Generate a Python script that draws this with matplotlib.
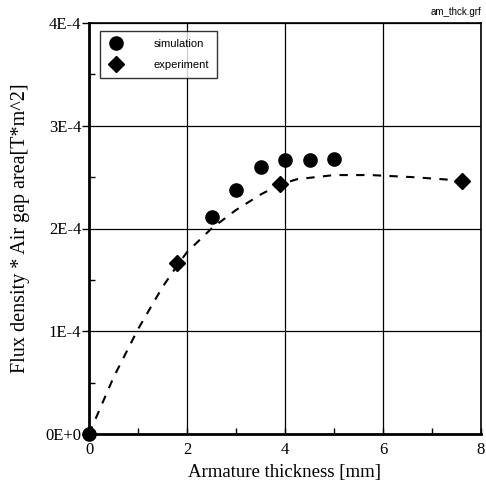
import matplotlib
matplotlib.use("Agg")
import matplotlib.pyplot as plt
from matplotlib.ticker import MultipleLocator, FixedLocator

sim_x = [0.0, 2.5, 3.0, 3.5, 4.0, 4.5, 5.0]
sim_y = [0.0, 2.11e-4, 2.37e-4, 2.60e-4, 2.67e-4, 2.67e-4, 2.68e-4]

exp_x = [1.8, 3.9, 7.62]
exp_y = [1.66e-4, 2.43e-4, 2.465e-4]

fit_x = [0.0, 0.2, 0.5, 1.0, 1.5, 1.8, 2.0, 2.5, 3.0, 3.5, 3.9, 4.25, 5.0, 5.75, 6.6, 7.2, 7.62]
fit_y = [0.0, 0.22e-4, 0.55e-4, 1.02e-4, 1.43e-4, 1.64e-4, 1.77e-4, 2.00e-4, 2.18e-4,
         2.33e-4, 2.43e-4, 2.48e-4, 2.52e-4, 2.52e-4, 2.50e-4, 2.48e-4, 2.465e-4]

x_ticks = [0, 2, 4, 6, 8]
y_ticks = [0, 1e-4, 2e-4, 3e-4, 4e-4]
y_tick_labels = ["0E+0", "1E-4", "2E-4", "3E-4", "4E-4"]

serif = ["Liberation Serif", "DejaVu Serif"]
sans = ["Liberation Sans", "DejaVu Sans"]

fig = plt.figure(figsize=(4.86, 4.88), dpi=100)
ax = fig.add_axes([89/486, 1 - 434/488, (481-89)/486, (434-23)/488])

ax.plot(fit_x, fit_y, linestyle=(0, (4, 4)), color="black", linewidth=1.5, zorder=2)
ax.plot(exp_x, exp_y, linestyle="none", marker="D", markersize=8.5, color="black",
        label="experiment", zorder=3, clip_on=False)
ax.plot(sim_x, sim_y, linestyle="none", marker="o", markersize=9.5, color="black",
        label="simulation", zorder=4, clip_on=False)

ax.set_xlim(0, 8)
ax.set_ylim(0, 4e-4)
ax.xaxis.set_major_locator(FixedLocator(x_ticks))
ax.xaxis.set_minor_locator(MultipleLocator(1))
ax.yaxis.set_major_locator(FixedLocator(y_ticks))
ax.yaxis.set_minor_locator(MultipleLocator(0.5e-4))
ax.set_xticklabels([str(t) for t in x_ticks], family=serif, fontsize=12)
ax.set_yticklabels(y_tick_labels, family=serif, fontsize=12)
ax.tick_params(which="both", top=False, right=False, width=1)
ax.tick_params(axis="x", which="both", direction="in", length=4, pad=6)
ax.tick_params(axis="y", which="major", direction="out", length=5, pad=0.5)
ax.tick_params(axis="y", which="minor", direction="in", length=4)
ax.grid(True, which="major", color="black", linewidth=0.9)
for s in ax.spines.values():
    s.set_linewidth(1.2)
ax.spines["bottom"].set_linewidth(2)
ax.spines["left"].set_linewidth(2)

ax.set_xlabel("Armature thickness [mm]", family=serif, fontsize=13.5)
ax.xaxis.set_label_coords(0.4987, -0.073)
ax.set_ylabel("Flux density * Air gap area[T*m^2]", family=serif, fontsize=14.5)
ax.yaxis.set_label_coords(-0.150, 0.5)

handles, labels = ax.get_legend_handles_labels()
leg = ax.legend(handles[::-1], labels[::-1], loc="upper left", bbox_to_anchor=(0.028, 0.98),
                prop={"family": sans, "size": 8}, frameon=True, fancybox=False,
                edgecolor="black", handletextpad=2.6, borderpad=0.7, labelspacing=1.0,
                handlelength=1.5, borderaxespad=0)
leg.get_frame().set_linewidth(1.0)

fig.text(0.99, 0.985, "am_thck.grf", ha="right", va="top", family=sans, fontsize=7)

fig.savefig("out.png", dpi=100)
